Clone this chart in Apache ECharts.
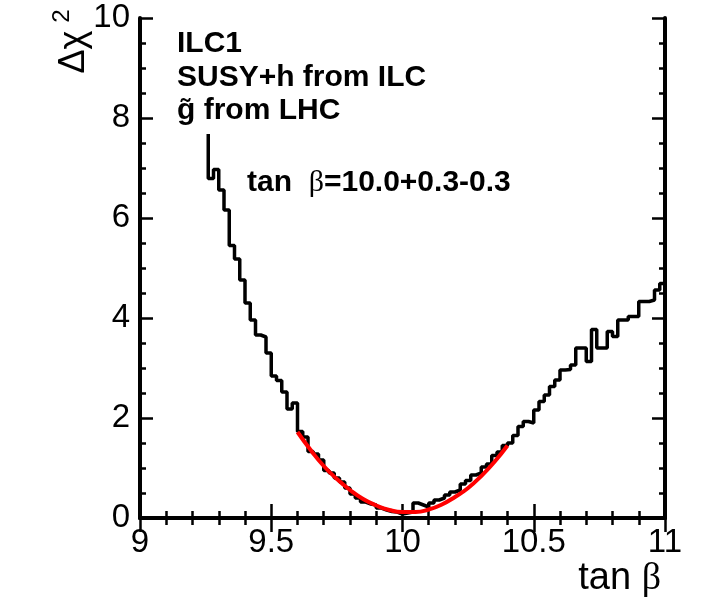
<!DOCTYPE html>
<html>
<head>
<meta charset="utf-8">
<script src="https://cdn.jsdelivr.net/npm/echarts@6/dist/echarts.min.js"></script>
<style>
html,body{margin:0;padding:0;background:#fff;}
#chart{width:711px;height:613px;}
</style>
</head>
<body>
<div id="chart"></div>
<script>
// Histogram: bins of width 0.02 starting at tan beta = 9.26
var binStart = 9.26;
var binWidth = 0.02;
var firstEdgeTop = 7.68;
var binValues = [
  6.79, 6.97, 6.56, 6.16, 5.45, 5.18, 4.76, 4.30, 3.96, 3.66,
  3.62, 3.30, 2.84, 2.75, 2.52, 2.18, 2.30, 1.73, 1.62, 1.33,
  1.28, 1.16, 0.95, 0.90, 0.80, 0.72, 0.60, 0.48, 0.40, 0.32,
  0.28, 0.26, 0.20, 0.16, 0.13, 0.12, 0.08, 0.10, 0.12, 0.30,
  0.26, 0.22, 0.30, 0.36, 0.40, 0.46, 0.52, 0.56, 0.68, 0.75,
  0.86, 0.90, 1.02, 1.08, 1.25, 1.32, 1.45, 1.50, 1.65, 1.83,
  1.93, 1.90, 2.16, 2.33, 2.46, 2.63, 2.76, 2.96, 2.97, 3.06,
  3.40, 3.40, 3.13, 3.77, 3.40, 3.40, 3.73, 3.63, 3.96, 3.96,
  4.03, 4.03, 4.33, 4.33, 4.36, 4.56, 4.69
];
// Red fit curve
var fitX = [9.60, 9.65, 9.70, 9.75, 9.80, 9.85, 9.90, 9.95, 10.00, 10.05, 10.10, 10.15, 10.20, 10.25, 10.30, 10.35, 10.40];
var fitY = [1.72, 1.36, 1.04, 0.78, 0.56, 0.38, 0.25, 0.16, 0.12, 0.12, 0.17, 0.27, 0.42, 0.60, 0.84, 1.12, 1.45];

var xTicks = [9, 9.5, 10, 10.5, 11];
var yTicks = [0, 2, 4, 6, 8, 10];

// build step polyline
var hist = [];
hist.push([binStart, firstEdgeTop]);
for (var k = 0; k < binValues.length; k++) {
  var lo = +(binStart + binWidth * k).toFixed(4);
  var hi = +(binStart + binWidth * (k + 1)).toFixed(4);
  hist.push([lo, binValues[k]]);
  hist.push([hi, binValues[k]]);
}
hist.push([+(binStart + binWidth * binValues.length).toFixed(4), 0]);

var fit = fitX.map(function (x, i) { return [x, fitY[i]]; });

var FONT = 'Liberation Sans, Arial, Helvetica, sans-serif';
var chart = echarts.init(document.getElementById('chart'), null, {renderer: 'canvas'});

var frameLine = {show: true, lineStyle: {color: '#000', width: 4}};
function xAxisCfg(pos, labels) {
  return {
    type: 'value', position: pos, min: 9, max: 11, interval: 0.5,
    axisLine: frameLine,
    axisTick: {show: true, inside: true, length: 14, lineStyle: {color: '#000', width: 2.5}},
    minorTick: {show: true, splitNumber: 5, length: 7, lineStyle: {color: '#000', width: 2.5}},
    splitLine: {show: false}, minorSplitLine: {show: false},
    axisLabel: labels ? {show: true, fontFamily: FONT, fontSize: 33, color: '#000', margin: 8,
      formatter: function (v) { return xTicks.indexOf(v) >= 0 ? String(v) : ''; }} : {show: false}
  };
}
function yAxisCfg(pos, labels) {
  return {
    type: 'value', position: pos, min: 0, max: 10, interval: 2,
    axisLine: frameLine,
    axisTick: {show: true, inside: true, length: 13, lineStyle: {color: '#000', width: 2.5}},
    minorTick: {show: true, splitNumber: 4, length: 6, lineStyle: {color: '#000', width: 2.5}},
    splitLine: {show: false}, minorSplitLine: {show: false},
    axisLabel: labels ? {show: true, fontFamily: FONT, fontSize: 33, color: '#000', margin: 10,
      formatter: function (v) { return yTicks.indexOf(v) >= 0 ? String(v) : ''; }} : {show: false}
  };
}

var option = {
  backgroundColor: '#fff',
  animation: false,
  grid: {left: 140, right: 46, top: 18, bottom: 95, containLabel: false},
  xAxis: [xAxisCfg('bottom', true), xAxisCfg('top', false)],
  yAxis: [yAxisCfg('left', true), yAxisCfg('right', false)],
  series: [
    {
      type: 'line', xAxisIndex: 0, yAxisIndex: 0, data: hist, symbol: 'none',
      lineStyle: {color: '#000', width: 3.5}, z: 3
    },
    {
      type: 'line', xAxisIndex: 0, yAxisIndex: 0, data: fit, symbol: 'none', smooth: true,
      lineStyle: {color: '#ff0000', width: 4}, z: 4
    }
  ],
  graphic: [
    {type: 'text', left: 177, top: 29, style: {text: 'ILC1', font: 'bold 30px ' + FONT, fill: '#000'}},
    {type: 'text', left: 177, top: 63, style: {text: 'SUSY+h from ILC', font: 'bold 30px ' + FONT, fill: '#000'}},
    {type: 'text', left: 177, top: 96, style: {text: 'g\u0303 from LHC', font: 'bold 30px ' + FONT, fill: '#000'}},
    {type: 'text', left: 247, top: 168, style: {
      text: '{a|tan  }{b|\u03b2}{a|=10.0+0.3-0.3}',
      rich: {
        a: {font: 'bold 30px ' + FONT, fill: '#000'},
        b: {font: '30px "Liberation Serif", "DejaVu Serif", serif', fill: '#000'}
      }
    }},
    {type: 'text', x: 74, y: 52, rotation: Math.PI / 2, style: {
      text: '\u0394\u03c7', font: '36px ' + FONT, fill: '#000', align: 'center', verticalAlign: 'middle'}},
    {type: 'text', x: 62, y: 16, rotation: Math.PI / 2, style: {
      text: '2', font: '24px ' + FONT, fill: '#000', align: 'center', verticalAlign: 'middle'}},
    {type: 'text', right: 50, top: 560, style: {
      text: '{a|tan }{b|\u03b2}',
      rich: {
        a: {font: '38px ' + FONT, fill: '#000'},
        b: {font: '38px "Liberation Serif", "DejaVu Serif", serif', fill: '#000'}
      }
    }}
  ]
};
chart.setOption(option);
</script>
</body>
</html>
